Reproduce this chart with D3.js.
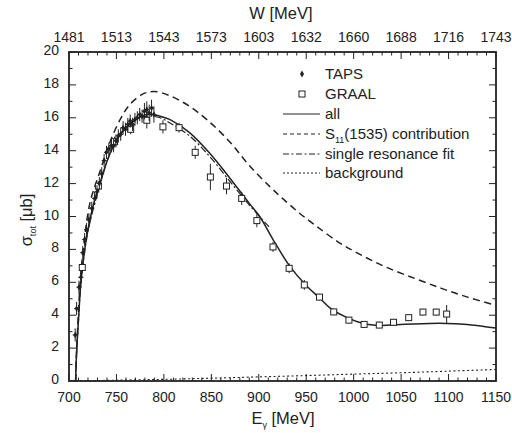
<!DOCTYPE html>
<html>
<head>
<meta charset="utf-8">
<script src="https://cdn.jsdelivr.net/npm/d3@7"></script>
<style>
    body { margin: 0; background: #fff; }
    svg { display: block; font-family: "Liberation Sans", Arial, sans-serif; }
    .tick-label { font-size: 14px; fill: #222; }
    .axis-title { font-size: 16.5px; fill: #222; }
    .legend-text { font-size: 15px; fill: #222; }
</style>
</head>
<body>
<svg id="chart" width="512" height="433" viewBox="0 0 512 433"></svg>
<script>
// Photon energy axis (bottom) and matching W labels (top)
const e_ticks = [700, 750, 800, 850, 900, 950, 1000, 1050, 1100, 1150];
const w_labels = ["1481", "1513", "1543", "1573", "1603", "1632", "1660", "1688", "1716", "1743"];
const y_ticks = [0, 2, 4, 6, 8, 10, 12, 14, 16, 18, 20];

// TAPS: [E, sigma, error]
const taps = [
    [706.5, 2.8, 0.4], [708, 4.4, 0.4], [710.5, 5.7, 0.4], [712.5, 6.3, 0.4],
    [714.5, 7.8, 0.4], [716.5, 8.6, 0.4], [718.5, 9.2, 0.4], [721, 9.8, 0.4],
    [724, 10.5, 0.4], [727, 11.1, 0.4], [729.5, 11.5, 0.4], [732, 12.0, 0.4],
    [734.5, 12.6, 0.4], [737, 13.4, 0.4], [739.5, 13.9, 0.4], [742, 14.1, 0.4],
    [744.5, 14.3, 0.4], [747, 14.3, 0.4], [749.5, 14.6, 0.4], [752, 14.9, 0.4],
    [754.5, 15.0, 0.4], [757, 15.4, 0.4], [759.5, 15.3, 0.4], [762, 15.6, 0.4],
    [764.5, 15.8, 0.4], [767, 15.6, 0.4], [769.5, 15.9, 0.4], [772, 16.0, 0.4],
    [774.5, 16.2, 0.4], [777, 16.1, 0.4], [779.5, 16.4, 0.5], [782, 16.5, 0.5],
    [784.5, 16.3, 0.5], [787, 16.6, 0.5], [789.5, 16.2, 0.5]
];

// GRAAL: [E, sigma, error]
const graal = [
    [714, 6.9, 0.3], [731, 11.85, 0.3], [748, 14.55, 0.3], [765, 15.3, 0.3],
    [782, 15.85, 0.5], [799, 15.45, 0.4], [816, 15.4, 0.3], [833, 13.9, 0.4],
    [849, 12.4, 0.8], [866, 11.85, 0.5], [882, 11.1, 0.4], [898, 9.75, 0.4],
    [915, 8.15, 0.3], [932, 6.85, 0.3], [948, 5.84, 0.3], [964, 5.1, 0.2],
    [979, 4.2, 0.2], [995, 3.7, 0.2], [1011, 3.44, 0.2], [1027, 3.4, 0.2],
    [1042, 3.57, 0.2], [1058, 3.85, 0.2], [1073, 4.19, 0.2], [1087, 4.19, 0.2],
    [1098, 4.07, 0.55]
];

// model curves: [E, sigma]
const curve_all = [
    [707, 0], [707.5, 1.0], [708.5, 2.3], [710, 3.7], [712, 5.6], [715, 7.3],
    [720, 9.2], [727, 11.0], [733, 12.1], [743, 13.8], [754, 15.0], [768, 15.8],
    [782, 16.2], [796, 16.1], [806, 15.9], [827, 15.1], [849, 13.8], [870, 12.3],
    [890, 10.8], [901, 10.0], [915, 8.6], [933, 6.95], [950, 5.8], [965, 5.0],
    [975, 4.45], [993, 3.85], [1010, 3.5], [1028, 3.38], [1045, 3.42], [1063, 3.47],
    [1080, 3.5], [1098, 3.5], [1116, 3.45], [1137, 3.32], [1150, 3.22]
];
const curve_s11 = [
    [707, 0], [707.5, 1.1], [708.5, 2.5], [710, 4.2], [712, 6.2], [715, 8.0],
    [722, 10.8], [733, 12.8], [743, 14.5], [754, 15.9], [764, 16.8], [778, 17.45],
    [790, 17.6], [806, 17.35], [827, 16.7], [849, 15.7], [870, 14.5], [890, 13.1],
    [912, 11.8], [925, 11.1], [943, 10.2], [961, 9.4], [985, 8.4], [1000, 7.9],
    [1031, 7.0], [1066, 6.2], [1094, 5.6], [1120, 5.1], [1150, 4.6]
];
const curve_single = [
    [707, 0], [707.5, 1.0], [708.5, 2.3], [710, 3.7], [712, 5.5], [715, 7.2],
    [720, 9.1], [733, 12.0], [743, 13.8], [754, 15.0], [768, 15.8], [782, 16.1],
    [796, 16.0], [806, 15.7], [827, 14.9], [849, 13.6], [870, 12.1], [890, 10.7],
    [912, 9.3]
];
const curve_background = [
    [707, 0], [750, 0.05], [800, 0.1], [850, 0.17], [900, 0.25], [950, 0.33],
    [1000, 0.42], [1050, 0.5], [1100, 0.6], [1150, 0.7]
];

const svg = d3.select("#chart");
const ink = "#222";

const x = d3.scaleLinear().domain([700, 1150]).range([69, 496]);
const y = d3.scaleLinear().domain([0, 20]).range([381, 52]);

const main_group = svg.append("g");

// Frame
main_group.append("rect")
    .attr("x", x(700)).attr("y", y(20))
    .attr("width", x(1150) - x(700)).attr("height", y(0) - y(20))
    .attr("fill", "none").attr("stroke", ink).attr("stroke-width", 1.8);

// Inward ticks on all four sides
const e_minor = d3.range(700, 1151, 10);
const y_minor = d3.range(0, 21, 1);
const tick_group = main_group.append("g").attr("stroke", ink).attr("stroke-width", 1);

e_minor.forEach(e => {
    const len = e % 50 === 0 ? 7 : 3.5;
    tick_group.append("line").attr("x1", x(e)).attr("x2", x(e)).attr("y1", y(0)).attr("y2", y(0) - len);
    tick_group.append("line").attr("x1", x(e)).attr("x2", x(e)).attr("y1", y(20)).attr("y2", y(20) + len);
});
y_minor.forEach(v => {
    const len = v % 2 === 0 ? 7 : 3.5;
    tick_group.append("line").attr("x1", x(700)).attr("x2", x(700) + len).attr("y1", y(v)).attr("y2", y(v));
    tick_group.append("line").attr("x1", x(1150)).attr("x2", x(1150) - len).attr("y1", y(v)).attr("y2", y(v));
});

// Tick labels
main_group.selectAll(".xlab").data(e_ticks).enter().append("text")
    .attr("class", "tick-label").attr("text-anchor", "middle")
    .attr("x", d => x(d)).attr("y", 402).text(d => d);
main_group.selectAll(".wlab").data(w_labels).enter().append("text")
    .attr("class", "tick-label").attr("text-anchor", "middle")
    .attr("x", (d, i) => x(e_ticks[i])).attr("y", 42).text(d => d);
main_group.selectAll(".ylab").data(y_ticks).enter().append("text")
    .attr("class", "tick-label").attr("text-anchor", "end")
    .attr("x", 59).attr("y", d => y(d) + 3).text(d => d);

// Axis titles
const x_title = main_group.append("text").attr("class", "axis-title")
    .attr("x", 283).attr("y", 424).attr("text-anchor", "middle");
x_title.append("tspan").text("E");
x_title.append("tspan").attr("font-size", 9).attr("dy", 4).text("γ");
x_title.append("tspan").attr("dy", -4).text(" [MeV]");

main_group.append("text").attr("class", "axis-title")
    .attr("x", 281).attr("y", 19).attr("text-anchor", "middle").text("W [MeV]");

const y_title = main_group.append("text").attr("class", "axis-title")
    .attr("transform", "translate(32,220) rotate(-90)").attr("text-anchor", "middle");
y_title.append("tspan").text("σ");
y_title.append("tspan").attr("font-size", 9).attr("dy", 4).text("tot");
y_title.append("tspan").attr("dy", -4).text(" [μb]");

// Curves
const line = d3.line().x(d => x(d[0])).y(d => y(d[1])).curve(d3.curveCatmullRom.alpha(0.5));
const curves = [
    { data: curve_background, dash: "2,2.5", width: 1.1 },
    { data: curve_s11, dash: "7,4.5", width: 1.5 },
    { data: curve_single, dash: "7,2.5,2,2.5", width: 1.2 },
    { data: curve_all, dash: null, width: 1.5 }
];
main_group.append("g").selectAll("path").data(curves).enter().append("path")
    .attr("d", d => line(d.data))
    .attr("fill", "none").attr("stroke", ink)
    .attr("stroke-width", d => d.width)
    .attr("stroke-dasharray", d => d.dash);

// GRAAL open squares with error bars
const graal_group = main_group.append("g").selectAll("g").data(graal).enter().append("g");
graal_group.append("line")
    .attr("x1", d => x(d[0])).attr("x2", d => x(d[0]))
    .attr("y1", d => y(d[1] - d[2])).attr("y2", d => y(d[1] + d[2]))
    .attr("stroke", ink).attr("stroke-width", 1);
graal_group.append("rect")
    .attr("x", d => x(d[0]) - 3).attr("y", d => y(d[1]) - 3)
    .attr("width", 6).attr("height", 6)
    .attr("fill", "#fff").attr("stroke", ink).attr("stroke-width", 1);

// TAPS filled diamonds with error bars
const taps_group = main_group.append("g").selectAll("g").data(taps).enter().append("g");
taps_group.append("line")
    .attr("x1", d => x(d[0])).attr("x2", d => x(d[0]))
    .attr("y1", d => y(d[1] - d[2])).attr("y2", d => y(d[1] + d[2]))
    .attr("stroke", ink).attr("stroke-width", 1);
taps_group.append("line")
    .attr("x1", d => x(d[0]) - 2.5).attr("x2", d => x(d[0]) + 2.5)
    .attr("y1", d => y(d[1])).attr("y2", d => y(d[1]))
    .attr("stroke", ink).attr("stroke-width", 1);
taps_group.append("path")
    .attr("d", d3.symbol().type(d3.symbolDiamond).size(12))
    .attr("transform", d => `translate(${x(d[0])},${y(d[1])})`)
    .attr("fill", ink);

// Legend
const legend = main_group.append("g");
const legend_x0 = 283, legend_x1 = 320, legend_tx = 325;
legend.append("path")
    .attr("d", d3.symbol().type(d3.symbolDiamond).size(14))
    .attr("transform", "translate(302,74)").attr("fill", ink);
legend.append("rect").attr("x", 299).attr("y", 91).attr("width", 6).attr("height", 6)
    .attr("fill", "#fff").attr("stroke", ink);
const legend_lines = [
    { row: 114, dash: null },
    { row: 134, dash: "4,3" },
    { row: 154, dash: "6,2.5,2,2.5" },
    { row: 173, dash: "2,2" }
];
legend.selectAll(".lline").data(legend_lines).enter().append("line")
    .attr("x1", legend_x0).attr("x2", legend_x1)
    .attr("y1", d => d.row).attr("y2", d => d.row)
    .attr("stroke", ink).attr("stroke-width", 1.2)
    .attr("stroke-dasharray", d => d.dash);

const legend_labels = [["TAPS", 79], ["GRAAL", 99], ["all", 119], ["single resonance fit", 159], ["background", 178]];
legend_labels.forEach(([t, yy]) => {
    legend.append("text").attr("class", "legend-text").attr("x", legend_tx).attr("y", yy).text(t);
});
const s11_text = legend.append("text").attr("class", "legend-text").attr("x", legend_tx).attr("y", 139);
s11_text.append("tspan").text("S");
s11_text.append("tspan").attr("font-size", 9).attr("dy", 4).text("11");
s11_text.append("tspan").attr("dy", -4).text("(1535) contribution");
</script>
</body>
</html>
